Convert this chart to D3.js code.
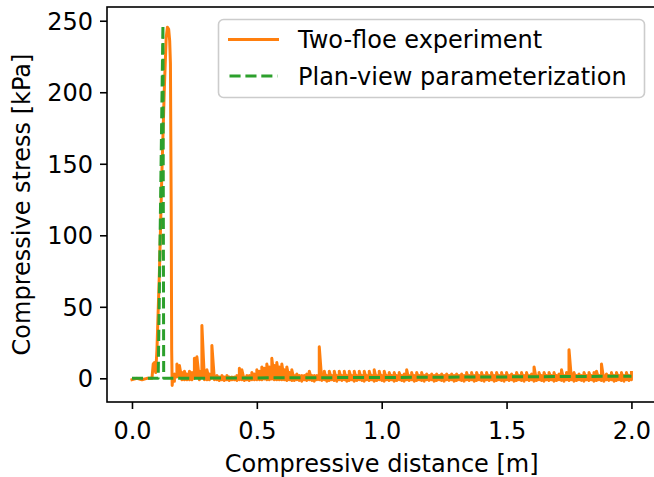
<!DOCTYPE html>
<html>
<head>
<meta charset="utf-8">
<script src="https://cdn.jsdelivr.net/npm/d3@7/dist/d3.min.js"></script>
<style>
  body { margin: 0; background: #fff; }
  svg { display: block; font-family: "DejaVu Sans", sans-serif; }
</style>
</head>
<body>
<svg id="chart" width="654" height="477"></svg>
<script>

// ---- data ----
var xTicks = [0.0, 0.5, 1.0, 1.5, 2.0];
var yTicks = [0, 50, 100, 150, 200, 250];

// two-floe experiment: loading peak, distance [m] / stress [kPa]
var peakDist = [
  0, 0.02, 0.04, 0.06, 0.08, 0.085, 0.09, 0.095, 0.10, 0.11,
  0.12, 0.13, 0.137, 0.142, 0.147, 0.151, 0.154, 0.157, 0.159, 0.161,
  0.164, 0.167
];
var peakStress = [
  -1, 0, -1, 0, 0, 10, 11, 4, 20, 75,
  145, 205, 238, 245.5, 244, 236, 220, 120, 20, -5,
  2, -2
];

// two-floe experiment after failure: the signal is dense, so each
// 0.01 m bin is given by its low and high stress [kPa]
var bandDist = [
  0.17, 0.18, 0.19, 0.20, 0.21, 0.22, 0.23, 0.24, 0.25, 0.26,
  0.27, 0.28, 0.29, 0.30, 0.31, 0.32, 0.33, 0.34, 0.35, 0.36,
  0.37, 0.38, 0.39, 0.40, 0.41, 0.42, 0.43, 0.44, 0.45, 0.46,
  0.47, 0.48, 0.49, 0.50, 0.51, 0.52, 0.53, 0.54, 0.55, 0.56,
  0.57, 0.58, 0.59, 0.60, 0.61, 0.62, 0.63, 0.64, 0.65, 0.66,
  0.67, 0.68, 0.69, 0.70, 0.71, 0.72, 0.73, 0.74, 0.75, 0.76,
  0.77, 0.78, 0.79, 0.80, 0.81, 0.82, 0.83, 0.84, 0.85, 0.86,
  0.87, 0.88, 0.89, 0.90, 0.91, 0.92, 0.93, 0.94, 0.95, 0.96,
  0.97, 0.98, 0.99, 1.00, 1.01, 1.02, 1.03, 1.04, 1.05, 1.06,
  1.07, 1.08, 1.09, 1.10, 1.11, 1.12, 1.13, 1.14, 1.15, 1.16,
  1.17, 1.18, 1.19, 1.20, 1.21, 1.22, 1.23, 1.24, 1.25, 1.26,
  1.27, 1.28, 1.29, 1.30, 1.31, 1.32, 1.33, 1.34, 1.35, 1.36,
  1.37, 1.38, 1.39, 1.40, 1.41, 1.42, 1.43, 1.44, 1.45, 1.46,
  1.47, 1.48, 1.49, 1.50, 1.51, 1.52, 1.53, 1.54, 1.55, 1.56,
  1.57, 1.58, 1.59, 1.60, 1.61, 1.62, 1.63, 1.64, 1.65, 1.66,
  1.67, 1.68, 1.69, 1.70, 1.71, 1.72, 1.73, 1.74, 1.75, 1.76,
  1.77, 1.78, 1.79, 1.80, 1.81, 1.82, 1.83, 1.84, 1.85, 1.86,
  1.87, 1.88, 1.89, 1.90, 1.91, 1.92, 1.93, 1.94, 1.95, 1.96,
  1.97, 1.98, 1.99, 2.00
];
var bandHigh = [
  3, 10, 9, 4, 5, 3, 5, 4, 14, 15,
  5, 37, 4, 6, 3, 23, 2, 2, 1, 2,
  1, 2, 1, 1, 1, 2, 7, 6, 1, 2,
  2, 4, 3, 6, 5, 8, 7, 10, 8, 14,
  9, 11, 8, 10, 6, 8, 4, 6, 2, 3,
  2, 2, 2, 3, 5, 2, 2, 2, 22, 2,
  5, 2, 5, 2, 5, 2, 5, 2, 5, 2,
  5, 2, 5, 2, 5, 2, 5, 2, 5, 2,
  6, 2, 5, 2, 5, 2, 4, 2, 4, 2,
  4, 2, 3, 6, 2, 4, 2, 4, 2, 4,
  2, 3, 2, 3, 2, 3, 2, 3, 2, 3,
  2, 3, 2, 3, 2, 3, 2, 4, 2, 4,
  2, 4, 2, 4, 2, 4, 2, 4, 2, 4,
  2, 4, 2, 4, 2, 3, 2, 4, 2, 4,
  2, 4, 2, 3, 8, 2, 4, 2, 4, 2,
  4, 2, 4, 2, 3, 6, 2, 4, 20, 2,
  4, 2, 3, 2, 4, 2, 4, 2, 4, 5,
  2, 10, 2, 3, 2, 4, 2, 4, 2, 4,
  2, 4, 2, 4
];
var bandLow = [
  -2, 1, 2, -1, -1, -1, -1, -1, 0, 1,
  -1, 1, -1, -1, -1, 0, -1, -1, -1.5, -1,
  -1.5, -1, -1.5, -1, -1, -1.5, -1, -1, -1.5, -1,
  -1.5, -1, -1, -1, -1, -1, -0.5, -1, -1, -0.5,
  -1, -1, -1, -1, -1, -1.5, -1, -1.5, -1.5, -1,
  -1.5, -2, -1, -1.5, -1, -1.5, -2, -1, -1, -1.5,
  -1, -2, -1.5, -1, -1.5, -2, -1, -1.5, -1, -2,
  -1.5, -1, -2, -1.5, -1, -1.5, -2, -1, -1.5, -1,
  -2, -1.5, -1, -1.5, -2, -1, -1.5, -1, -2, -1.5,
  -1, -1.5, -2, -1, -1.5, -1, -2, -1.5, -1, -1.5,
  -2, -1, -1.5, -1, -2, -1.5, -1, -1.5, -2, -1,
  -1.5, -1, -2, -1.5, -1, -1.5, -2, -1, -1.5, -1,
  -2, -1.5, -1, -1.5, -2, -1, -1.5, -1, -2, -1.5,
  -1, -1.5, -2, -1, -1.5, -1, -2, -1.5, -1, -1.5,
  -2, -1, -1.5, -1, -2, -1.5, -1, -1.5, -2, -1,
  -1.5, -1, -2, -1.5, -1, -1.5, -2, -1, -1.5, -1,
  -2, -1.5, -1, -1.5, -2, -1, -1.5, -1, -2, -1.5,
  -1, -1.5, -2, -1, -1.5, -1, -2, -1.5, -1, -1.5,
  -2, -1, -1.5, -1
];

// plan-view parameterization
var paramDist   = [0, 0.105, 0.124, 0.127, 0.5, 1.0, 1.5, 2.0];
var paramStress = [0, 0, 247, 0, 0.3, 0.6, 1.0, 1.5];

var seriesNames  = ['Two-floe experiment', 'Plan-view parameterization'];
var seriesColors = ['#ff7f0e', '#2ca02c'];

// ---- layout ----
var svg = d3.select('#chart');
var frame = { left: 107, right: 656.4, top: 7, bottom: 402 };

var x = d3.scaleLinear().domain([-0.1, 2.1]).range([frame.left, frame.right]);
var y = d3.scaleLinear().domain([-16.55, 259.6]).range([frame.bottom, frame.top]);

svg.append('defs').append('clipPath').attr('id', 'plotclip')
  .append('rect')
  .attr('x', frame.left).attr('y', frame.top)
  .attr('width', frame.right - frame.left)
  .attr('height', frame.bottom - frame.top);

var line = d3.line()
  .x(function(d) { return x(d[0]); })
  .y(function(d) { return y(d[1]); });

// peak part point by point, then low -> high for every bin
var expData = peakDist.map(function(d, i) { return [d, peakStress[i]]; });
bandDist.forEach(function(d, i) {
  expData.push([d, bandLow[i]]);
  expData.push([d, bandHigh[i]]);
});
var paramData = paramDist.map(function(d, i) { return [d, paramStress[i]]; });

var plot = svg.append('g').attr('clip-path', 'url(#plotclip)');

plot.append('path')
  .datum(expData)
  .attr('d', line)
  .attr('fill', 'none')
  .attr('stroke', seriesColors[0])
  .attr('stroke-width', 3)
  .attr('stroke-linejoin', 'round')
  .attr('stroke-linecap', 'square');

plot.append('path')
  .datum(paramData)
  .attr('d', line)
  .attr('fill', 'none')
  .attr('stroke', seriesColors[1])
  .attr('stroke-width', 3)
  .attr('stroke-linejoin', 'round')
  .attr('stroke-dasharray', '11.1,4.8');

// ---- axes ----
var xAxis = d3.axisBottom(x).tickValues(xTicks).tickSize(7).tickPadding(0)
  .tickFormat(d3.format('.1f'));
var yAxis = d3.axisLeft(y).tickValues(yTicks).tickSize(7).tickPadding(0)
  .tickFormat(d3.format('d'));

var gx = svg.append('g').attr('transform', 'translate(0,' + frame.bottom + ')').call(xAxis);
var gy = svg.append('g').attr('transform', 'translate(' + frame.left + ',0)').call(yAxis);

[gx, gy].forEach(function(g) {
  g.select('.domain').remove();
  g.selectAll('.tick line').attr('stroke', '#000').attr('stroke-width', 1.6);
  g.selectAll('.tick text')
    .attr('fill', '#000')
    .style('font-size', '24px')
    .style('font-family', '"DejaVu Sans", sans-serif');
});

gx.selectAll('.tick text').attr('dy', null).attr('y', 37);
gy.selectAll('.tick text').attr('x', -14).attr('dy', '0.36em');

// frame (right spine lies just past the window edge)
svg.append('rect')
  .attr('x', frame.left).attr('y', frame.top)
  .attr('width', frame.right - frame.left)
  .attr('height', frame.bottom - frame.top)
  .attr('fill', 'none')
  .attr('stroke', '#000')
  .attr('stroke-width', 1.6);

svg.append('text')
  .attr('x', (frame.left + frame.right) / 2)
  .attr('y', 471.5)
  .attr('text-anchor', 'middle')
  .style('font-size', '24px')
  .text('Compressive distance [m]');

svg.append('text')
  .attr('transform', 'translate(29.5,' + ((frame.top + frame.bottom) / 2) + ') rotate(-90)')
  .attr('text-anchor', 'middle')
  .style('font-size', '24px')
  .text('Compressive stress [kPa]');

// ---- legend ----
var legend = svg.append('g').attr('transform', 'translate(218.5,19.5)');

legend.append('rect')
  .attr('width', 426)
  .attr('height', 78)
  .attr('rx', 5).attr('ry', 5)
  .attr('fill', 'rgba(255,255,255,0.8)')
  .attr('stroke', '#cccccc')
  .attr('stroke-width', 1.6);

var rows = legend.selectAll('g.row')
  .data(seriesNames)
  .enter().append('g')
  .attr('class', 'row')
  .attr('transform', function(d, i) { return 'translate(0,' + (20 + i * 36.5) + ')'; });

rows.append('line')
  .attr('x1', 11).attr('x2', 59)
  .attr('stroke', function(d, i) { return seriesColors[i]; })
  .attr('stroke-width', 3)
  .attr('stroke-linecap', function(d, i) { return i === 0 ? 'square' : 'butt'; })
  .attr('stroke-dasharray', function(d, i) { return i === 1 ? '11.1,4.8' : null; });

rows.append('text')
  .attr('x', 79.5)
  .attr('dy', '0.36em')
  .style('font-size', '24px')
  .attr('fill', '#000')
  .text(function(d) { return d; });

</script>
</body>
</html>
